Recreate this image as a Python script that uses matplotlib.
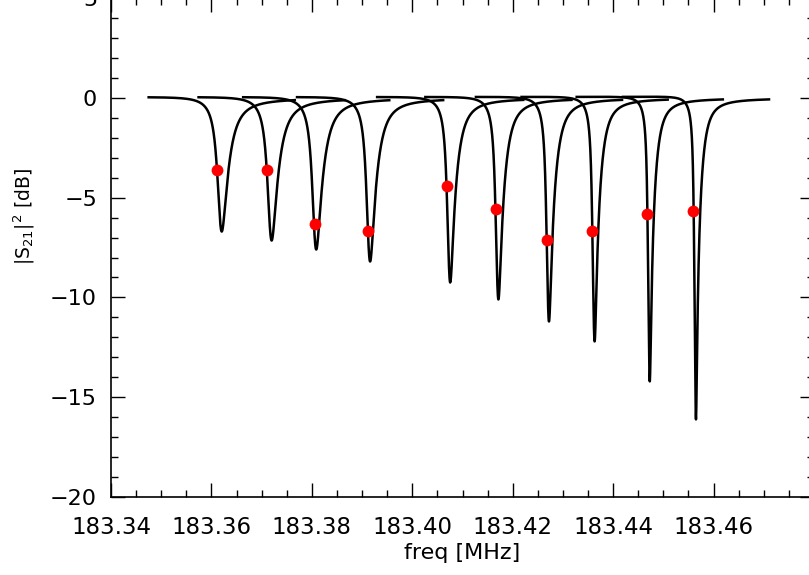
import numpy as np
import matplotlib
matplotlib.use("Agg")
import matplotlib.pyplot as plt
from matplotlib.ticker import MultipleLocator, FormatStrFormatter

# ---- data ----
# resonance minima (frequency in MHz, depth in dB)
f_min = [183.36205, 183.37199, 183.38087, 183.39160, 183.40755,
         183.41715, 183.42722, 183.43631, 183.44729, 183.45649]
depth_db = [-6.70, -7.15, -7.60, -8.20, -9.25, -10.10, -11.20, -12.20, -14.20, -16.10]
# loaded quality factors and nonlinearity / asymmetry parameters
q_loaded = [52000, 52000, 53000, 56000, 63000, 65000, 68000, 76000, 86000, 90000]
a_nonlin = [0.15, 0.16, 0.18, 0.20, 0.22, 0.24, 0.27, 0.29, 0.31, 0.33]
phase_asym = 0.12
half_span = 0.0148  # MHz, sweep half width around each resonance

# red markers (readout tones)
tone_f = [183.36112, 183.37106, 183.38053, 183.39120, 183.40682,
          183.41663, 183.42689, 183.43583, 183.44683, 183.45590]
tone_db = [-3.61, -3.61, -6.32, -6.68, -4.43, -5.58, -7.13, -6.68, -5.80, -5.66]

xticks = [183.34, 183.36, 183.38, 183.40, 183.42, 183.44, 183.46]
yticks = [-20, -15, -10, -5, 0, 5]


def resonance_curve(fm, ddb, q, anl, phi, span):
    s = 10 ** (ddb / 20.0)
    a = (1 - s ** 2) / (np.cos(phi) + s)
    y = np.linspace(-14, 14, 56001)          # internal detuning
    y0 = y - anl / (1 + 4 * y ** 2)          # generator detuning (nonlinear)
    s21 = 1 - a * np.exp(1j * phi) / (1 + 2j * y)
    p = 20 * np.log10(np.abs(s21))
    i = np.argmin(p)
    f = fm + (y0 - y0[i]) * fm / q
    m = np.abs(f - fm) <= span
    return f[m], p[m]


W, H = 809, 575
fig = plt.figure(figsize=(W / 100, H / 100), dpi=100)
left, right, bottom, top = 111, 814, 497.3, -2.25
ax = fig.add_axes([left / W, (H - bottom) / H, (right - left) / W, (bottom - top) / H])

for fm, d, q, anl in zip(f_min, depth_db, q_loaded, a_nonlin):
    fx, py = resonance_curve(fm, d, q, anl, phase_asym, half_span)
    ax.plot(fx, py, color="black", lw=1.8, solid_capstyle="butt", zorder=2)

ax.plot(tone_f, tone_db, "o", color="#ff0000", ms=8.5, mec="none", zorder=3)

ax.set_xlim(183.34, 183.48)
ax.set_ylim(-20, 5)
ax.set_xticks(xticks)
ax.set_yticks(yticks)
ax.xaxis.set_major_formatter(FormatStrFormatter("%.2f"))
ax.xaxis.set_minor_locator(MultipleLocator(0.005))
ax.yaxis.set_minor_locator(MultipleLocator(1))
ax.tick_params(which="both", direction="in", top=True, right=True, width=1.0)
ax.tick_params(which="major", length=10)
ax.tick_params(which="minor", length=5)
ax.tick_params(axis="x", labelsize=16.5, pad=13.5)
ax.tick_params(axis="y", labelsize=16, pad=10)
for sp in ax.spines.values():
    sp.set_linewidth(1.2)

ax.set_xlabel("freq [MHz]", fontsize=16)
ax.xaxis.set_label_coords(0.5, -(543 - bottom) / (bottom - top))
ax.xaxis.label.set_va("top")
ax.set_ylabel(r"|S$_{21}$|$^2$ [dB]", fontsize=13.5)
ax.yaxis.set_label_coords(-(left - 37) / (right - left), (bottom - 217) / (bottom - top))

fig.savefig("out.png", dpi=100)
